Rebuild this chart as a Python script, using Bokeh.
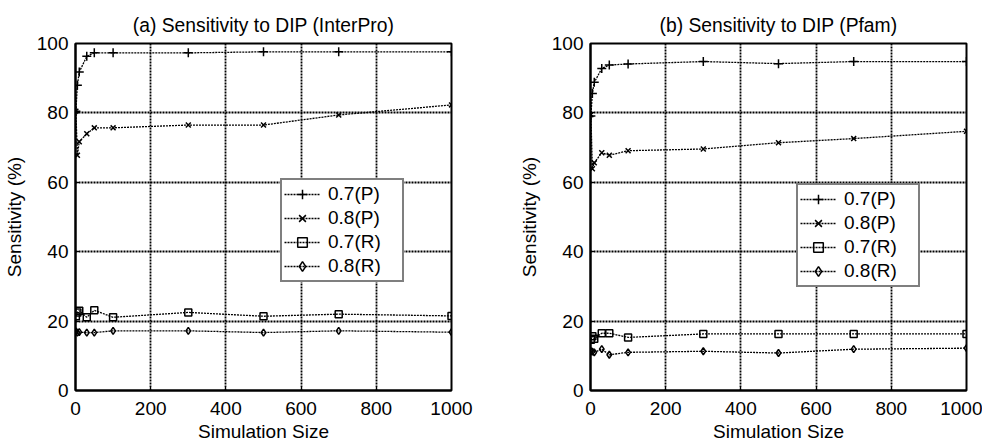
from bokeh.plotting import figure
from bokeh.layouts import row
from bokeh.models import Legend, LegendItem, FixedTicker
from bokeh.embed import file_html
from bokeh.resources import INLINE

# ---- data ----
sim_size = [1, 5, 10, 30, 50, 100, 300, 500, 700, 1000]

series_labels = ["0.7(P)", "0.8(P)", "0.7(R)", "0.8(R)"]

interpro_p07 = [80.5, 88.0, 91.8, 96.3, 97.3, 97.3, 97.3, 97.6, 97.6, 97.6]
interpro_p08 = [80.5, 67.8, 71.7, 74.0, 75.7, 75.7, 76.5, 76.5, 79.4, 82.3]
interpro_r07 = [21.4, 22.5, 23.0, 21.1, 23.1, 21.1, 22.5, 21.4, 22.0, 21.5]
interpro_r08 = [17.0, 16.7, 16.8, 16.7, 16.7, 17.2, 17.2, 16.7, 17.2, 16.8]

pfam_p07 = [79.1, 85.6, 88.8, 92.8, 93.8, 94.1, 94.8, 94.2, 94.8, 94.8]
pfam_p08 = [79.5, 63.9, 65.6, 68.5, 67.8, 69.1, 69.6, 71.4, 72.6, 74.7]
pfam_r07 = [14.6, 15.6, 14.9, 16.5, 16.5, 15.3, 16.3, 16.3, 16.3, 16.3]
pfam_r08 = [11.3, 11.2, 11.0, 11.9, 10.3, 11.0, 11.3, 10.8, 11.9, 12.2]

x_ticks = [0, 200, 400, 600, 800, 1000]
y_ticks = [0, 20, 40, 60, 80, 100]

titles = ["(a) Sensitivity to DIP (InterPro)", "(b) Sensitivity to DIP (Pfam)"]
x_label = "Simulation Size"
y_label = "Sensitivity (%)"

FONT = "Liberation Sans"
markers = ["cross", "x", "square", "diamond"]
msizes = [9, 7, 7, 7]


def make_plot(title, ys, border_left, border_right, legend_loc):
    p = figure(frame_width=376, frame_height=347,
               min_border_left=border_left, min_border_right=border_right,
               min_border_top=43, min_border_bottom=50,
               x_range=(0, 1000), y_range=(0, 100),
               output_backend="svg", toolbar_location=None,
               background_fill_color="white", border_fill_color="white")
    p.title.text = title
    p.title.align = "center"
    p.title.text_font = FONT
    p.title.text_font_size = "19.3px"
    p.title.text_font_style = "normal"
    p.title.text_color = "black"
    p.title.standoff = 16

    p.xaxis.ticker = FixedTicker(ticks=x_ticks)
    p.yaxis.ticker = FixedTicker(ticks=y_ticks)
    for ax in (p.xaxis[0], p.yaxis[0]):
        ax.major_label_text_font = FONT
        ax.major_label_text_font_size = "19px"
        ax.major_label_text_color = "black"
        ax.axis_label_text_font = FONT
        ax.axis_label_text_font_size = "19px"
        ax.axis_label_text_font_style = "normal"
        ax.axis_label_text_color = "black"
        ax.major_tick_in = 4
        ax.major_tick_out = 0
        ax.minor_tick_in = 0
        ax.minor_tick_out = 0
        ax.axis_line_color = "black"
        ax.axis_line_width = 2
        ax.major_tick_line_color = "black"
    p.xaxis.axis_label = x_label
    p.yaxis.axis_label = y_label
    p.xaxis.major_label_standoff = 11
    p.yaxis.major_label_standoff = 7
    p.xaxis.axis_label_standoff = 3
    p.yaxis.axis_label_standoff = 9

    p.grid.grid_line_color = "black"
    p.grid.grid_line_width = 1.8
    p.grid.grid_line_dash = "2 1"
    p.grid.grid_line_alpha = 1.0

    p.outline_line_color = "black"
    p.outline_line_width = 2
    p.outline_line_alpha = 1.0

    items = []
    for label, yv, mk, ms in zip(series_labels, ys, markers, msizes):
        ln = p.line(sim_size, yv, line_color="black", line_width=1.3, line_dash="2 1")
        sc = p.scatter(sim_size, yv, marker=mk, size=ms, line_color="black",
                       fill_color=None, line_width=1.5)
        items.append(LegendItem(label=label, renderers=[ln, sc]))

    leg = Legend(items=items, location=legend_loc)
    leg.label_text_font = FONT
    leg.label_text_font_size = "19px"
    leg.label_text_color = "black"
    leg.label_height = 24
    leg.glyph_height = 24
    leg.glyph_width = 36
    leg.label_width = 72
    leg.label_standoff = 8
    leg.spacing = 0
    leg.padding = 2
    leg.margin = 0
    leg.border_line_color = "black"
    leg.border_line_width = 2
    leg.background_fill_color = "white"
    leg.background_fill_alpha = 1.0
    p.add_layout(leg, "center")
    return p


p1 = make_plot(titles[0], [interpro_p07, interpro_p08, interpro_r07, interpro_r08],
               74, 35, (205, 108))
p2 = make_plot(titles[1], [pfam_p07, pfam_p08, pfam_r07, pfam_r08],
               104, 16, (206, 103))

layout = row(p1, p2, spacing=0)
open("out.html", "w").write(file_html(layout, INLINE))
